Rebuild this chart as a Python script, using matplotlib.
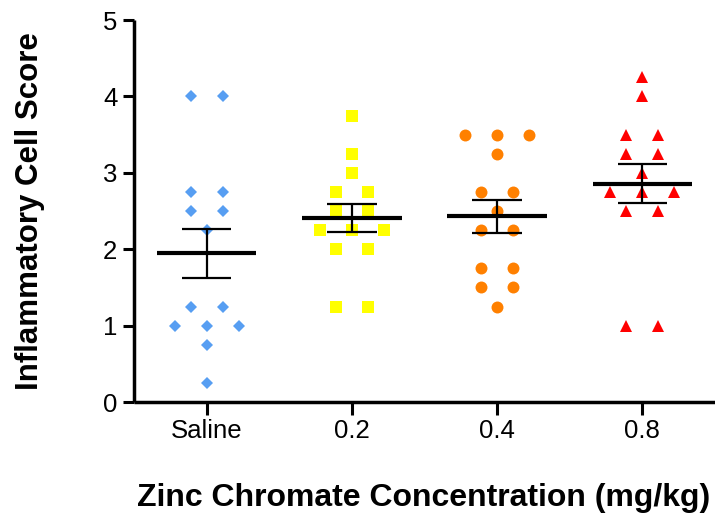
import numpy as np
import matplotlib
matplotlib.use("Agg")
import matplotlib.pyplot as plt
from collections import Counter

plt.rcParams['font.family'] = ['Liberation Sans', 'DejaVu Sans']

categories = ["Saline", "0.2", "0.4", "0.8"]
saline = [4.0, 4.0, 2.75, 2.75, 2.5, 2.5, 2.25, 1.25, 1.25, 1.0, 1.0, 1.0, 0.75, 0.25]
dose_02 = [3.75, 3.25, 3.0, 2.75, 2.75, 2.5, 2.5, 2.25, 2.25, 2.25, 2.0, 2.0, 1.25, 1.25]
dose_04 = [3.5, 3.5, 3.5, 3.25, 2.75, 2.75, 2.5, 2.25, 2.25, 1.75, 1.75, 1.5, 1.5, 1.25]
dose_08 = [4.25, 4.0, 3.5, 3.5, 3.25, 3.25, 3.0, 2.75, 2.75, 2.75, 2.5, 2.5, 1.0, 1.0]
groups = [saline, dose_02, dose_04, dose_08]

markers = ['D', 's', 'o', '^']
sizes = [6.3, 8.6, 8.6, 8.8]
colors = ['#579EF2', '#FFFF00', '#FF8000', '#FF0000']

xlabel = "Zinc Chromate Concentration (mg/kg)"
ylabel = "Inflammatory Cell Score"
yticks = [0, 1, 2, 3, 4, 5]

fig = plt.figure(figsize=(7.15, 5.21), dpi=100)
ax = fig.add_axes([134/715, (521-402)/521, 1 - 134/715, (402-20)/521])

spacing = 0.22
for i, vals in enumerate(groups):
    counts = Counter(vals)
    seen = Counter()
    xs = []
    for v in vals:
        n = counts[v]
        k = seen[v]
        seen[v] += 1
        xs.append(i + (k - (n - 1) / 2) * spacing)
    ax.plot(xs, vals, linestyle='none', marker=markers[i], markersize=sizes[i],
            markerfacecolor=colors[i], markeredgewidth=0, zorder=2)
    arr = np.array(vals)
    m = arr.mean()
    sem = arr.std(ddof=1) / np.sqrt(len(arr))
    ax.hlines(m, i - 0.343, i + 0.343, color='black', lw=3.0, zorder=3)
    ax.vlines(i, m - sem, m + sem, color='black', lw=1.6, zorder=3)
    ax.hlines([m - sem, m + sem], i - 0.17, i + 0.17, color='black', lw=1.6, zorder=3)

ax.set_xlim(-0.5, 3.5)
ax.set_ylim(0, 5)
ax.set_xticks(range(len(categories)))
ax.set_xticklabels(categories)
ax.set_yticks(yticks)
ax.set_yticklabels([str(t) for t in yticks])

for s in ['top', 'right']:
    ax.spines[s].set_visible(False)
for s in ['left', 'bottom']:
    ax.spines[s].set_linewidth(2.5)
    ax.spines[s].set_capstyle('butt')

ax.tick_params(axis='x', length=9.5, width=2.2, pad=3, labelsize=18.5, direction='out')
ax.tick_params(axis='y', length=8, width=2.2, pad=4, labelsize=18.5, direction='out')

ax.set_xlabel(xlabel, fontsize=23, fontweight='bold', va='center')
ax.xaxis.set_label_coords((424-134)/581, (402-498)/382)
ax.set_ylabel(ylabel, fontsize=22.5, fontweight='bold', va='center')
ax.yaxis.set_label_coords((30-134)/581, 0.5)

fig.savefig("out.png", dpi=100)
